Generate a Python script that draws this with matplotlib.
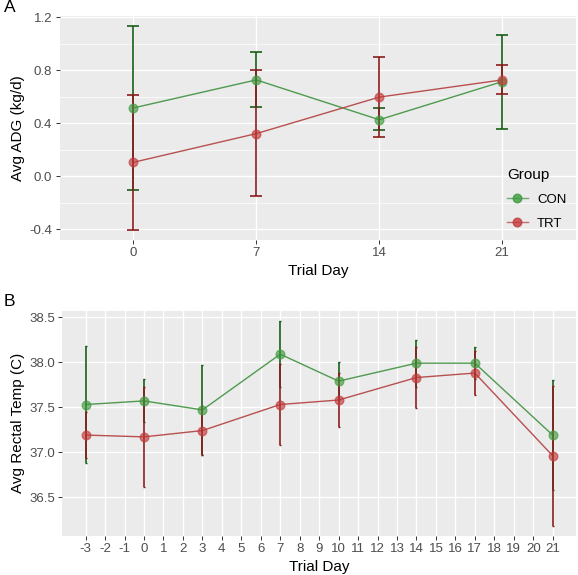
import numpy as np
import matplotlib
matplotlib.use("Agg")
import matplotlib.pyplot as plt
from matplotlib.lines import Line2D

plt.rcParams["font.family"] = ["Liberation Sans", "DejaVu Sans"]
plt.rcParams["axes.unicode_minus"] = False

# Panel A: average daily gain by trial day (discrete axis)
adg_days = ["0", "7", "14", "21"]
adg_con = [0.515, 0.727, 0.426, 0.714]
adg_con_lo = [-0.105, 0.519, 0.346, 0.359]
adg_con_hi = [1.133, 0.940, 0.511, 1.068]
adg_trt = [0.104, 0.321, 0.597, 0.727]
adg_trt_lo = [-0.406, -0.150, 0.293, 0.624]
adg_trt_hi = [0.614, 0.802, 0.902, 0.838]

# Panel B: rectal temperature by trial day (continuous axis)
temp_days = [-3, 0, 3, 7, 10, 14, 17, 21]
temp_con = [37.53, 37.57, 37.47, 38.09, 37.79, 37.99, 37.99, 37.19]
temp_con_sd = [0.65, 0.24, 0.50, 0.37, 0.21, 0.26, 0.18, 0.61]
temp_trt = [37.19, 37.17, 37.24, 37.53, 37.58, 37.83, 37.88, 36.96]
temp_trt_sd = [0.26, 0.56, 0.27, 0.45, 0.30, 0.34, 0.24, 0.78]

groups = ["CON", "TRT"]
line_col = {"CON": "#4f9a4f", "TRT": "#b85050"}
pt_col = {"CON": "#3f9a3f", "TRT": "#c23b3b"}
bar_col = {"CON": "#175e17", "TRT": "#8b1c1c"}

W, H = 578, 575
fig = plt.figure(figsize=(W / 100, H / 100), dpi=100)


def gg_style(ax):
    ax.set_facecolor("#EBEBEB")
    for s in ax.spines.values():
        s.set_visible(False)
    ax.grid(True, which="major", color="white", lw=1.0)
    ax.set_axisbelow(True)
    ax.tick_params(colors="#333333", labelcolor="#4D4D4D", labelsize=9.5,
                   length=2.8, width=0.7, pad=2.5)
    ax.tick_params(which="minor", length=0)


# ---------------- Panel A ----------------
axA = fig.add_axes([59.5 / W, 1 - 240 / H, (576 - 59.5) / W, (240 - 16) / H])
gg_style(axA)
xa = np.arange(len(adg_days))
for g, m, lo, hi in [("CON", adg_con, adg_con_lo, adg_con_hi),
                     ("TRT", adg_trt, adg_trt_lo, adg_trt_hi)]:
    m = np.array(m)
    yerr = [m - np.array(lo), np.array(hi) - m]
    axA.plot(xa, m, color=line_col[g], lw=1.0, zorder=3)
    axA.errorbar(xa, m, yerr=yerr, fmt="none", ecolor=bar_col[g],
                 elinewidth=1.2, capsize=4.3, capthick=1.2, zorder=4)
    axA.plot(xa, m, "o", ms=6.2, color=pt_col[g], alpha=0.65,
             mec=pt_col[g], zorder=5)
axA.set_xlim(-0.6, 3.6)
axA.set_ylim(-0.483, 1.21)
axA.set_xticks(xa)
axA.set_xticklabels(adg_days)
axA.set_yticks([-0.4, 0.0, 0.4, 0.8, 1.2])
axA.set_yticklabels(["-0.4", "0.0", "0.4", "0.8", "1.2"])
axA.set_yticks([-0.2, 0.2, 0.6, 1.0], minor=True)
axA.grid(True, which="minor", axis="y", color="white", lw=0.5)
axA.set_xlabel("Trial Day", fontsize=11, color="black", labelpad=3)
axA.set_ylabel("Avg ADG (kg/d)", fontsize=11, color="black", labelpad=3)

handles = [Line2D([0], [0], color=line_col[g], lw=1.0, marker="o", ms=6.2,
                  mfc=pt_col[g], mec=pt_col[g], alpha=0.8) for g in groups]
leg = axA.legend(handles, groups, title="Group", loc="upper left",
                 bbox_to_anchor=(0.843, 0.375), frameon=False, fontsize=9.5,
                 title_fontsize=11, handlelength=1.6, labelspacing=0.9,
                 handletextpad=0.7, alignment="left")

# ---------------- Panel B ----------------
axB = fig.add_axes([62.3 / W, 1 - 536 / H, (576 - 62.3) / W, (536 - 310.5) / H])
gg_style(axB)
for g, m, sd in [("CON", temp_con, temp_con_sd), ("TRT", temp_trt, temp_trt_sd)]:
    axB.plot(temp_days, m, color=line_col[g], lw=1.0, zorder=3)
    axB.errorbar(temp_days, m, yerr=sd, fmt="none", ecolor=bar_col[g],
                 elinewidth=1.2, capsize=1.0, capthick=1.0, zorder=4)
    axB.plot(temp_days, m, "o", ms=6.2, color=pt_col[g], alpha=0.65,
             mec=pt_col[g], zorder=5)
axB.set_xlim(-4.2, 22.2)
axB.set_ylim(36.067, 38.576)
axB.set_xticks(np.arange(-3, 22))
axB.set_yticks([36.5, 37.0, 37.5, 38.0, 38.5])
axB.set_yticklabels(["36.5", "37.0", "37.5", "38.0", "38.5"])
axB.set_xlabel("Trial Day", fontsize=11, color="black", labelpad=3)
axB.set_ylabel("Avg Rectal Temp (C)", fontsize=11, color="black", labelpad=3)

fig.text(4 / W, 1 - 8 / H, "A", fontsize=12.5, va="center", ha="left")
fig.text(4 / W, 1 - 302 / H, "B", fontsize=12.5, va="center", ha="left")

fig.savefig("out.png", dpi=100)
